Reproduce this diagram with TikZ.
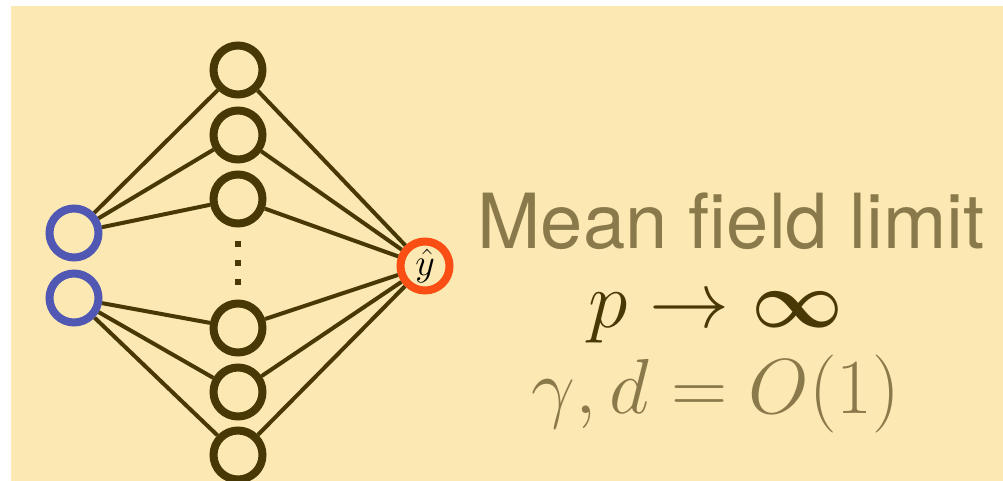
\documentclass[tikz,border=0pt]{standalone}
\usepackage{fix-cm}
\usepackage{amsmath}
\usepackage{fontspec}
\newfontfamily\headfont{TeX Gyre Heros}
\usepackage{tikz}
\usetikzlibrary{positioning}
\definecolor{paper}{RGB}{251,232,178}
\definecolor{bark}{RGB}{72,56,5}
\definecolor{mfolive}{RGB}{138,121,74}
\definecolor{inblue}{RGB}{80,88,180}
\definecolor{outred}{RGB}{250,78,20}

\begin{document}
\begin{tikzpicture}[x=1pt, y=-1pt,
    unit/.style={circle, minimum size=49pt, inner sep=0pt, line width=8pt},
    hid/.style={unit, draw=bark},
    inp/.style={unit, draw=inblue},
    outp/.style={unit, draw=outred},
    wire/.style={draw=bark, line width=4pt},
    caption/.style={anchor=base, inner sep=0pt}]
    \useasboundingbox (0,0) rectangle (1003,481);
    \fill[white] (0,0) rectangle (1003,481);
    \fill[paper] (11,6) rectangle (1003,481);

    % network
    \node[inp] (I1) at (74,233) {};
    \node[inp] (I2) at (74,298) {};
    \node[hid] (H1) at (238,70) {};
    \node[hid] (H2) at (238,135) {};
    \node[hid] (H3) at (238,199) {};
    \node[hid] (H4) at (238,328) {};
    \node[hid] (H5) at (238,392) {};
    \node[hid] (H6) at (238,455) {};
    \node[outp, font=\fontsize{38}{40}\selectfont] (Y) at (425,266) {$\hat{y}$};

    \fill[bark] (235,241) rectangle (241,247);
    \fill[bark] (235,260) rectangle (241,266);
    \fill[bark] (235,279) rectangle (241,285);

    \draw[wire] (I1) -- (H1);
    \draw[wire] (I1) -- (H2);
    \draw[wire] (I1) -- (H3);
    \draw[wire] (I2) -- (H4);
    \draw[wire] (I2) -- (H5);
    \draw[wire] (I2) -- (H6);
    \draw[wire] (H1) -- (Y);
    \draw[wire] (H2) -- (Y);
    \draw[wire] (H3) -- (Y);
    \draw[wire] (H4) -- (Y);
    \draw[wire] (H5) -- (Y);
    \draw[wire] (H6) -- (Y);

    % text
    \node[caption, text=mfolive, font=\headfont\fontsize{76}{80}\selectfont] (title) at (731,248) {Mean field limit};
    \node[caption, text=bark, font=\fontsize{80}{84}\selectfont] (lim) at (716,327) {$p \to \boldsymbol{\infty}$};
    \node[caption, text=mfolive, font=\fontsize{78}{82}\selectfont] (scal) at (716,413) {$\gamma, d = O(1)$};
\end{tikzpicture}
\end{document}
